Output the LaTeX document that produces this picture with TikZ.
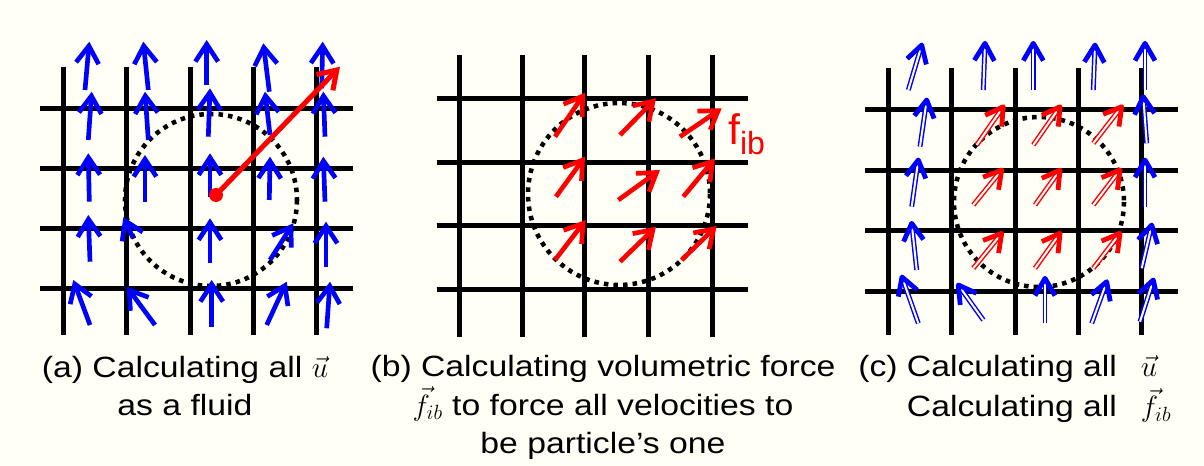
\RequirePackage{fix-cm}
\documentclass[tikz,border=0pt]{standalone}
\usepackage{fontspec}
\setmainfont{Liberation Sans}[FakeStretch=1.15]
\newfontfamily\lblfont{Liberation Sans}
\usepackage{tikz}
\usetikzlibrary{arrows.meta, calc}
\definecolor{vel}{HTML}{0000FF}
\definecolor{frc}{HTML}{FF0000}
\definecolor{paper}{HTML}{FFFFF5}

\begin{document}
\begin{tikzpicture}[
      x=0.75pt, y=-0.75pt,
      font=\fontsize{22}{29}\selectfont,
      grd/.style={black, line width=3.75pt},
      ring/.style={black, line width=3.4pt, dash pattern=on 3.4pt off 3.8pt},
      va/.style={vel, line width=3.5pt, -{Straight Barb[length=13pt, width=17pt]}},
      fa/.style={frc, line width=3.5pt, -{Straight Barb[length=13pt, width=17pt]}},
      dbl/.style={double=white, double distance=1.5pt, line width=1.1pt},
      hd/.style={line width=3.6pt, line join=round},
    ]
    \path[use as bounding box, fill=paper] (0,0) rectangle (1204,466);

    % (a) velocities of the fluid
    \foreach \x in {63.3,126.7,190,253.3,316.7}
      \draw[grd] (\x,67) -- (\x,335);
    \foreach \y in {108.3,168.3,229,289}
      \draw[grd] (40,\y) -- (353,\y);
    \draw[ring] (211,200) circle (86);
    \foreach \xa/\ya/\xb/\yb in {85/90/89.3/41.7, 148.3/90/143.3/41.7,
        206.7/85/206.7/40, 269.3/91.7/263.3/43.3, 321.7/88.3/322.7/41.7,
        88.3/140/91.7/91.7, 148.3/140/145/91.7, 208.3/136.7/210/88.3,
        270/135/265/91.7, 325/136.7/323.3/91.7,
        89.3/201.7/88.3/153.3, 145/201.7/145/155, 210/196.7/210/153.3,
        269.3/200/270/156.7, 325/201.7/323.3/156.7,
        90/261.7/88.3/215, 133/238/123.5/217, 210/263.3/210/218.3,
        270/260/293.3/223.3, 326/266.7/326/221.7,
        90/325/73.3/280, 155/325/126.7/286.7, 211.7/326.7/211.7/280,
        266.7/325/286.7/281.7, 326.7/328.3/330/281.7}
      \draw[va] (\xa,\ya) -- (\xb,\yb);
    \fill[frc] (216,195) circle (7);
    \draw[fa, line width=3.8pt] (216,195) -- (340,66.7);
    \node[anchor=base, align=center, inner sep=0pt] (capa) at (185,415.7)
      {(a) Calculating all $\vec{u}$\\as a fluid};

    % (b) volumetric force inside the particle
    \foreach \x in {459.3,522.7,584.3,648.3,712.7}
      \draw[grd] (\x,55) -- (\x,336.7);
    \foreach \y in {98.3,162.3,226,290}
      \draw[grd] (436.7,\y) -- (748.3,\y);
    \draw[ring] (619,194) circle (91);
    \foreach \xa/\ya/\xb/\yb in {555/136.7/585/92.7, 620/135/656/98.3,
        680/136.7/721.7/108.3, 556/196.7/585/156.7, 618.3/200/660/170,
        683.3/196.7/715/158.3, 555/260/585.7/220, 620/261.7/656/226.7,
        681.7/260/716.7/226}
      \draw[fa] (\xa,\ya) -- (\xb,\yb);
    \node[frc, anchor=base west, inner sep=0pt] (fib) at (728,145)
      {\lblfont\fontsize{32}{32}\selectfont f\raisebox{-7.5pt}{\fontsize{24}{24}\selectfont ib}};
    \node[anchor=base, align=center, inner sep=0pt] (capb) at (603,454)
      {(b) Calculating volumetric force\\$\vec{f}_{ib}$ to force all velocities to\\be particle’s one};

    % (c) both, double shafts
    \foreach \x in {888.3,951.7,1015,1078.3,1141.7}
      \draw[grd] (\x,68.3) -- (\x,335);
    \foreach \y in {110,170.7,231,291.7}
      \draw[grd] (865,\y) -- (1178,\y);
    \draw[ring] (1039,202) circle (85);
    \foreach \xa/\ya/\xb/\yb in {908.3/90/921.7/45, 983.3/90/985/43.3,
        1033.3/90/1033.3/43.3, 1093.3/90/1095/45, 1145/90/1145/43.3,
        920/146.7/926.7/100, 1146.7/143.3/1143.3/96.7,
        911.7/206.7/918.3/160, 1145/206.7/1145/160,
        916.7/270/911.7/223.3, 1141.7/268.3/1151.7/225,
        918.3/323.3/902/277, 983.3/320/958.3/285, 1045/323.3/1045/278.3,
        1091.7/323.3/1106.7/281.7, 1140/321.7/1153.3/280} {
      \draw[vel, dbl] (\xa,\ya) -- (\xb,\yb);
      \draw[vel, hd] ($(\xb,\yb)!15pt!30:(\xa,\ya)$) -- (\xb,\yb)
        -- ($(\xb,\yb)!15pt!-30:(\xa,\ya)$);
    }
    \foreach \xa/\ya/\xb/\yb in {976.7/145/1003.3/106.7, 1033.3/145/1060/106.7,
        1093.3/143.3/1121.7/106.7, 973.3/205/1001.7/170, 1035/205/1060/170,
        1093.3/205/1120/170, 973.3/268.3/1001.7/233.3,
        1035/268.3/1060/233.3, 1093.3/268.3/1120/233.3} {
      \draw[frc, dbl] (\xa,\ya) -- (\xb,\yb);
      \draw[frc, hd] ($(\xb,\yb)!15pt!30:(\xa,\ya)$) -- (\xb,\yb)
        -- ($(\xb,\yb)!15pt!-30:(\xa,\ya)$);
    }
    \node[anchor=base west, inner sep=0pt] (capc) at (858,376.7)
      {\begin{tabular}[t]{@{}r@{\hspace{18pt}}l@{}}
        (c) Calculating all & $\vec{u}$\\
        Calculating all & $\vec{f}_{ib}$
       \end{tabular}};
\end{tikzpicture}
\end{document}
